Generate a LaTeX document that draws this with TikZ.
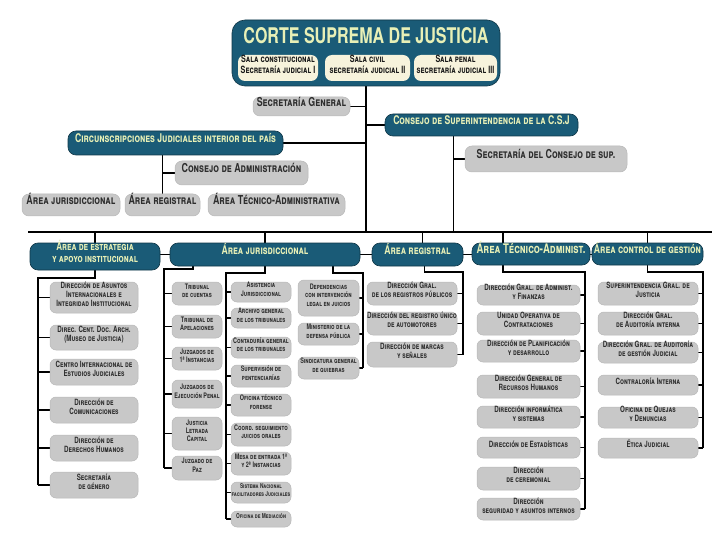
\documentclass[tikz,border=0pt]{standalone}
\usepackage{fontspec}
\usepackage{graphicx}
\setmainfont{TeX Gyre Heros}[FakeStretch=0.72]
\usetikzlibrary{fit,backgrounds}
\definecolor{tealbg}{HTML}{1A5B77}
\definecolor{tealtx}{HTML}{E8F0B6}
\definecolor{greybg}{HTML}{C8C8C8}
\definecolor{greytx}{HTML}{2E2E2E}
\definecolor{creambg}{HTML}{F7F3DC}
\tikzset{
  nb/.style={inner sep=0pt, align=center},
  gb/.style={nb, fill=greybg, draw=black!28, line width=0.5pt, rounded corners=6pt, text=greytx, font=\bfseries\scshape\fontsize{8.6}{9}\selectfont},
  gbs/.style={gb, font=\bfseries\scshape\fontsize{7.6}{8.3}\selectfont},
  gbt/.style={gb, font=\bfseries\scshape\fontsize{6.7}{7.6}\selectfont},
  gbl/.style={gb, rounded corners=7pt, font=\bfseries\scshape\fontsize{12.3}{13}\selectfont},
  tb/.style={nb, fill=tealbg, draw=tealbg!60!black, line width=0.6pt, rounded corners=8pt, text=tealtx, font=\bfseries\scshape\fontsize{12}{13}\selectfont},
  cb/.style={nb, fill=creambg, rounded corners=7pt, text=black!90, font=\bfseries\scshape\fontsize{10}{11}\selectfont},
  ln/.style={line width=1.7pt, draw=black}
}
\begin{document}
\begin{tikzpicture}[x=1pt,y=-1pt]
\useasboundingbox (0,0) rectangle (720,540);
% top
\node[tb, rounded corners=13pt, fit={(232,20) (500,86)}] (csj) {};
\node[text=tealtx, font=\bfseries, inner sep=0pt] (title) at (366,36) {\resizebox{245pt}{16pt}{CORTE SUPREMA DE JUSTICIA}};
\node[cb, fit={(238,55) (318,81)}] (sc) {Sala constitucional\\Secretaría judicial I};
\node[cb, fit={(325,55) (410,81)}] (sv) {Sala civil\\secretaría judicial II};
\node[cb, fit={(414,55) (497,81)}] (sp) {Sala penal\\secretaría judicial III};
% middle
\node[gbl, fit={(253,97) (350,116)}] (sg) {Secretaría General};
\node[tb, fit={(68,131) (283,155)}] (cir) {Circunscripciones Judiciales interior del país};
\node[tb, fit={(385,114) (578,136)}] (csup) {Consejo de Superintendencia de la C.S.J};
\node[gbl, fit={(465,146) (627,172)}] (scs) {Secretaría del Consejo de sup.};
\node[gbl, fit={(175,161) (308,185)}] (cadm) {Consejo de Administración};
\node[gbl, fit={(22,194) (120,216)}] (cj) {Área jurisdiccional};
\node[gbl, fit={(125,194) (200,216)}] (cr) {Área registral};
\node[gbl, fit={(208,194) (345,216)}] (ct) {Área Técnico-Administrativa};
\coordinate (busL) at (28,232);
\coordinate (busR) at (712,232);
% areas
\node[tb, font=\bfseries\scshape\fontsize{11.2}{11.5}\selectfont, fit={(30,243) (160,270)}] (ae) {Área de estrategia\\y apoyo institucional};
\node[tb, fit={(170,243) (360,266)}] (aj) {Área jurisdiccional};
\node[tb, fit={(372,243) (463,266)}] (ag) {Área registral};
\node[tb, font=\bfseries\scshape\fontsize{13.2}{14}\selectfont, fit={(472,243) (590,265)}] (at) {Área Técnico-Administ.};
\node[tb, fit={(592,243) (703,265)}] (ac) {Área control de gestión};
% estrategia
\node[gb, fit={(50,282) (138,313)}] (e1) {Dirección de Asuntos\\Internacionales e\\Integridad Institucional};
\node[gb, fit={(50,325) (138,350)}] (e2) {Direc. Cent. Doc. Arch.\\(Museo de Justicia)};
\node[gb, fit={(50,359) (138,385)}] (e3) {Centro Internacional de\\Estudios Judiciales};
\node[gb, fit={(50,397) (138,423)}] (e4) {Dirección de\\Comunicaciones};
\node[gb, fit={(50,435) (138,461)}] (e5) {Dirección de\\Derechos Humanos};
\node[gb, fit={(50,472) (138,498)}] (e6) {Secretaría\\de género};
% jurisdiccional col A
\node[gbs, fit={(172,282) (222,305)}] (a1) {Tribunal\\de cuentas};
\node[gbs, fit={(172,315) (222,338)}] (a2) {Tribunal de\\Apelaciones};
\node[gbs, fit={(172,347) (222,370)}] (a3) {Juzgados de\\1ª Instancias};
\node[gbs, fit={(172,380) (222,408)}] (a4) {Juzgados de\\Ejecución Penal};
\node[gbs, fit={(172,417) (222,450)}] (a5) {Justicia\\Letrada\\Capital};
\node[gbs, fit={(172,456) (222,480)}] (a6) {Juzgado de\\Paz};
% col B
\node[gbs, fit={(231,282) (291,302)}] (b1) {Asistencia\\Jurisdiccional};
\node[gbs, fit={(231,308) (291,328)}] (b2) {Archivo general\\de los tribunales};
\node[gbs, fit={(231,337) (291,358)}] (b3) {Contaduría general\\de los tribunales};
\node[gbs, fit={(231,365) (291,387)}] (b4) {Supervisión de\\pentenciarías};
\node[gbs, fit={(231,394) (291,416)}] (b5) {Oficina técnico\\forense};
\node[gbs, fit={(231,423) (291,446)}] (b6) {Coord. seguimiento\\juicios orales};
\node[gbs, fit={(231,452) (291,475)}] (b7) {Mesa de entrada 1ª\\y 2ª Instancias};
\node[gbt, fit={(231,482) (291,503)}] (b8) {Sistema Nacional\\facilitadores Judiciales};
\node[gbt, fit={(231,511) (291,527)}] (b9) {Oficina de Mediación};
% col C
\node[gbs, fit={(298,280) (359,316)}] (c1) {Dependencias\\con intervención\\legal en juicios};
\node[gbs, fit={(298,323) (359,345)}] (c2) {Ministerio de la\\defensa pública};
\node[gbs, fit={(298,357) (359,379)}] (c3) {Sindicatura general\\de quiebras};
% registral
\node[gb, fit={(367,282) (457,305)}] (r1) {Dirección Gral.\\de los registros públicos};
\node[gb, fit={(367,312) (457,335)}] (r2) {Dirección del registro único\\de automotores};
\node[gb, fit={(367,342) (457,367)}] (r3) {Dirección de marcas\\y señales};
% tecnico
\node[gb, fit={(477,285) (580,305)}] (t1) {Dirección Gral. de Administ.\\y Finanzas};
\node[gb, fit={(477,312) (580,335)}] (t2) {Unidad Operativa de\\Contrataciones};
\node[gb, fit={(477,340) (580,362)}] (t3) {Dirección de Planificación\\y desarrollo};
\node[gb, fit={(477,375) (580,398)}] (t4) {Dirección General de\\Recursos Humanos};
\node[gb, fit={(477,406) (580,428)}] (t5) {Dirección informática\\y sistemas};
\node[gb, fit={(477,437) (580,458)}] (t6) {Dirección de Estadísticas};
\node[gb, fit={(477,467) (580,490)}] (t7) {Dirección\\de ceremonial};
\node[gb, fit={(477,498) (580,520)}] (t8) {Dirección\\seguridad y asuntos internos};
% control
\node[gb, fit={(598,282) (698,305)}] (k1) {Superintendencia Gral. de\\Justicia};
\node[gb, fit={(598,312) (698,335)}] (k2) {Dirección Gral.\\de Auditoría interna};
\node[gb, fit={(598,342) (698,363)}] (k3) {Dirección Gral. de Auditoría\\de gestión Judicial};
\node[gb, fit={(598,375) (698,395)}] (k4) {Contraloría Interna};
\node[gb, fit={(598,407) (698,428)}] (k5) {Oficina de Quejas\\y Denuncias};
\node[gb, fit={(598,438) (698,458)}] (k6) {Ética Judicial};
% coordinates of vertical rails
\coordinate (ev) at (38,278);
\coordinate (jav) at (164,269);
\coordinate (jbv) at (226,273);
\coordinate (jcv) at (363,273);
\coordinate (rv) at (463,272);
\coordinate (tv) at (585,272);
\coordinate (kv) at (703,272);
\begin{scope}[on background layer]
\fill[white] (0,0) rectangle (720,540);
\draw[ln] (busL) -- (busR);
\draw[ln] (csj.south) -- (csj.south |- busL);
\draw[ln] (sg.east) -- (sg.east -| csj.south);
\draw[ln] (cir.east) -- (cir.east -| csj.south);
\draw[ln] (csup.west) -- (csup.west -| csj.south);
\draw[ln] ([xshift=-28pt]csup.south) -- ([xshift=-28pt]csup.south |- busL);
\draw[ln] ([xshift=-28pt]csup.south |- scs.west) -- (scs.west);
\draw[ln] (cr.north) -- (cr.north |- cir.south);
\draw[ln] (cadm.west) -- (cadm.west -| cr.north);
\draw[ln] (ae.north) -- (ae.north |- busL);
\draw[ln] (aj.north) -- (aj.north |- busL);
\draw[ln] ([xshift=5pt]ag.north) -- ([xshift=5pt]ag.north |- busL);
\draw[ln] ([xshift=-28pt]at.north) -- ([xshift=-28pt]at.north |- busL);
\draw[ln] (ac.north) -- (ac.north |- busL);
\draw[ln] (ae.east |- aj.center) -- (ac.west |- aj.center);
\draw[ln] (ae.south) |- (ev) -- (ev |- e6.west);
\foreach \n in {e1,e2,e3,e4,e5,e6} \draw[ln] (ev |- \n.west) -- (\n.west);
\draw[ln] ([xshift=-72pt]aj.south) |- (jav) -- (jav |- a6.west);
\foreach \n in {a1,a2,a3,a4,a5,a6} \draw[ln] (jav |- \n.west) -- (\n.west);
\draw[ln] (aj.south) |- (jbv) -- (jbv |- b9.west);
\foreach \n in {b1,b2,b3,b4,b5,b6,b7,b8,b9} \draw[ln] (jbv |- \n.west) -- (\n.west);
\draw[ln] ([xshift=68pt]aj.south) |- (jcv) -- (jcv |- c3.east);
\foreach \n in {c1,c2,c3} \draw[ln] (jcv |- \n.east) -- (\n.east);
\draw[ln] ([xshift=7pt]ag.south) |- (rv) -- (rv |- r3.east);
\foreach \n in {r1,r2,r3} \draw[ln] (rv |- \n.east) -- (\n.east);
\draw[ln] ([xshift=-28pt]at.south) |- (tv) -- (tv |- t8.east);
\foreach \n in {t1,t2,t3,t4,t5,t6,t7,t8} \draw[ln] (tv |- \n.east) -- (\n.east);
\draw[ln] (ac.south) |- (kv) -- (kv |- k6.east);
\foreach \n in {k1,k2,k3,k4,k5,k6} \draw[ln] (kv |- \n.east) -- (\n.east);
\end{scope}
\end{tikzpicture}
\end{document}
